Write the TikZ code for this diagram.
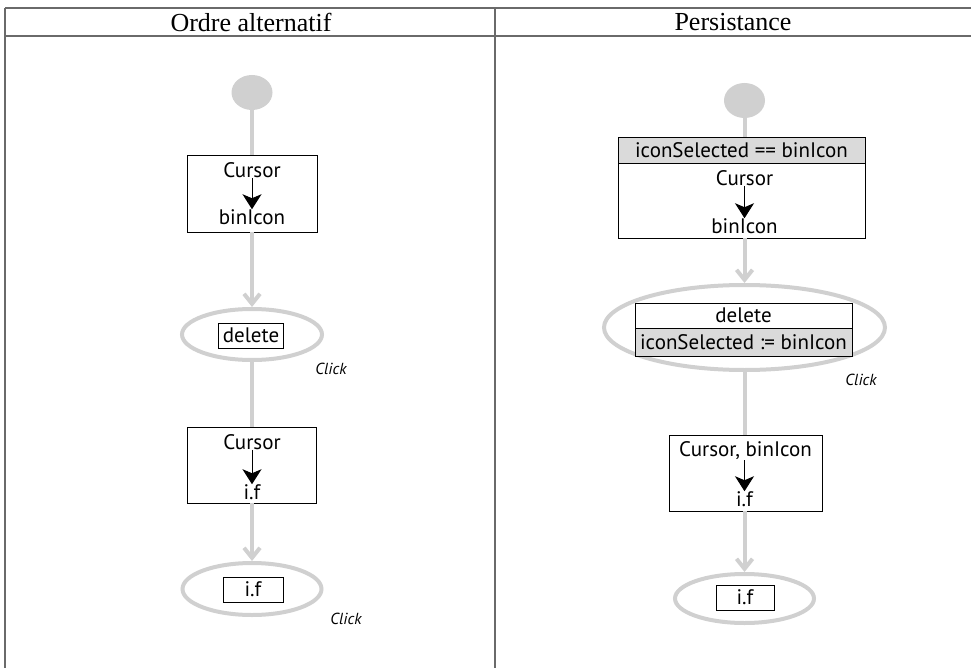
\documentclass[tikz,border=0pt]{standalone}
\usepackage{fontspec}
\setmainfont{Liberation Serif}
\newfontfamily\diagfont{PT Sans}
\usetikzlibrary{arrows.meta,shapes.geometric}
\definecolor{flowgray}{HTML}{D0D0D0}
\definecolor{gridgray}{HTML}{6A6A6A}
\definecolor{guardgray}{HTML}{DADADA}
\begin{document}
\begin{tikzpicture}[x=1pt,y=-1pt,
  gridline/.style={draw=gridgray,line width=1.6pt},
  headtext/.style={font=\fontsize{26}{30}\selectfont},
  flow/.style={draw=flowgray,line width=4pt},
  flowarrow/.style={flow,-{Straight Barb[length=10pt,width=16pt]}},
  startdot/.style={ellipse,fill=flowgray,draw=none,minimum width=41pt,minimum height=35pt,inner sep=0pt},
  statebox/.style={draw=black,line width=0.9pt,fill=white,inner sep=0pt,font=\diagfont\fontsize{21}{24}\selectfont},
  guard/.style={statebox,fill=guardgray},
  evt/.style={ellipse,draw=flowgray,line width=4pt,inner sep=0pt},
  txt/.style={font=\diagfont\fontsize{21}{24}\selectfont,inner sep=0pt},
  clicktxt/.style={font=\diagfont\itshape\fontsize{16}{18}\selectfont,inner sep=0pt},
  inarrow/.style={draw=black,line width=1pt,-{Stealth[length=15pt,width=19pt,inset=4pt]}}
]
\useasboundingbox (0,0) rectangle (971,668);

% table
\coordinate (tl) at (5,8);
\coordinate (tr) at (971,8);
\coordinate (hl) at (5,36);
\coordinate (hr) at (971,36);
\coordinate (bl) at (5,668);
\coordinate (mt) at (495,8);
\coordinate (mb) at (495,668);
\draw[gridline] (tl) -- (tr);
\draw[gridline] (hl) -- (hr);
\draw[gridline] (tl) -- (bl);
\draw[gridline] (mt) -- (mb);
\node[headtext] (h1) at (251,22) {Ordre alternatif};
\node[headtext] (h2) at (733,22) {Persistance};

% ===== left column =====
\node[startdot] (s1) at (252,92.5) {};
\node[statebox,minimum width=130pt,minimum height=77pt] (b1) at (252,193.5) {};
\node[txt] (b1a) at (252,170) {Cursor};
\node[txt] (b1b) at (252,217) {binIcon};
\node[evt,minimum width=140pt,minimum height=51pt] (e1) at (252,334.5) {};
\node[statebox,minimum width=65pt,minimum height=25pt] (e1a) at (251,335.5) {delete};
\node[clicktxt] (c1) at (331,369) {Click};
\node[statebox,minimum width=129pt,minimum height=76pt] (b2) at (252,465) {};
\node[txt] (b2a) at (252,442) {Cursor};
\node[txt] (b2b) at (252,492) {i.f};
\node[evt,minimum width=139pt,minimum height=52pt] (e2) at (252,589) {};
\node[statebox,minimum width=60pt,minimum height=25pt] (e2a) at (253,589.5) {i.f};
\node[clicktxt] (c2) at (346,619) {Click};

\draw[flow] (s1) -- (b1);
\draw[flowarrow] (b1) -- (e1);
\draw[flow] (e1) -- (b2);
\draw[flowarrow] (b2) -- (e2);
\draw[inarrow] (b1a.south) -- (b1b.north);
\draw[inarrow] (b2a.south) -- (b2b.north);

% ===== right column =====
\node[startdot] (s2) at (744.5,100.5) {};
\node[guard,minimum width=247pt,minimum height=26pt] (g3) at (741.5,150) {iconSelected == binIcon};
\node[statebox,minimum width=247pt,minimum height=75pt] (b3) at (741.5,200.5) {};
\node[txt] (b3a) at (744.5,178) {Cursor};
\node[txt] (b3b) at (744.5,226) {binIcon};
\node[evt,minimum width=281pt,minimum height=85pt] (e3) at (744.5,327.5) {};
\node[statebox,minimum width=217pt,minimum height=25pt] (e3a) at (743.5,315.5) {delete};
\node[guard,minimum width=217pt,minimum height=28pt] (e3b) at (743.5,342) {iconSelected := binIcon};
\node[clicktxt] (c3) at (861,380) {Click};
\node[statebox,minimum width=153pt,minimum height=76pt] (b4) at (745.5,473) {};
\node[txt] (b4a) at (745.5,451) {Cursor, binIcon};
\node[txt] (b4b) at (744.5,499) {i.f};
\node[evt,minimum width=139pt,minimum height=49pt] (e4) at (744.5,598.5) {};
\node[statebox,minimum width=58pt,minimum height=25pt] (e4a) at (745,597.5) {i.f};

\draw[flow] (s2) -- (s2 |- g3.north);
\draw[flowarrow] (b3.south -| s2) -- (e3);
\draw[flow] (e3) -- (e3 |- b4.north);
\draw[flowarrow] (b4.south -| e4) -- (e4);
\draw[inarrow] (b3a.south) -- (b3b.north);
\draw[inarrow] (b4a.south -| b4b) -- (b4b.north);
\end{tikzpicture}
\end{document}
